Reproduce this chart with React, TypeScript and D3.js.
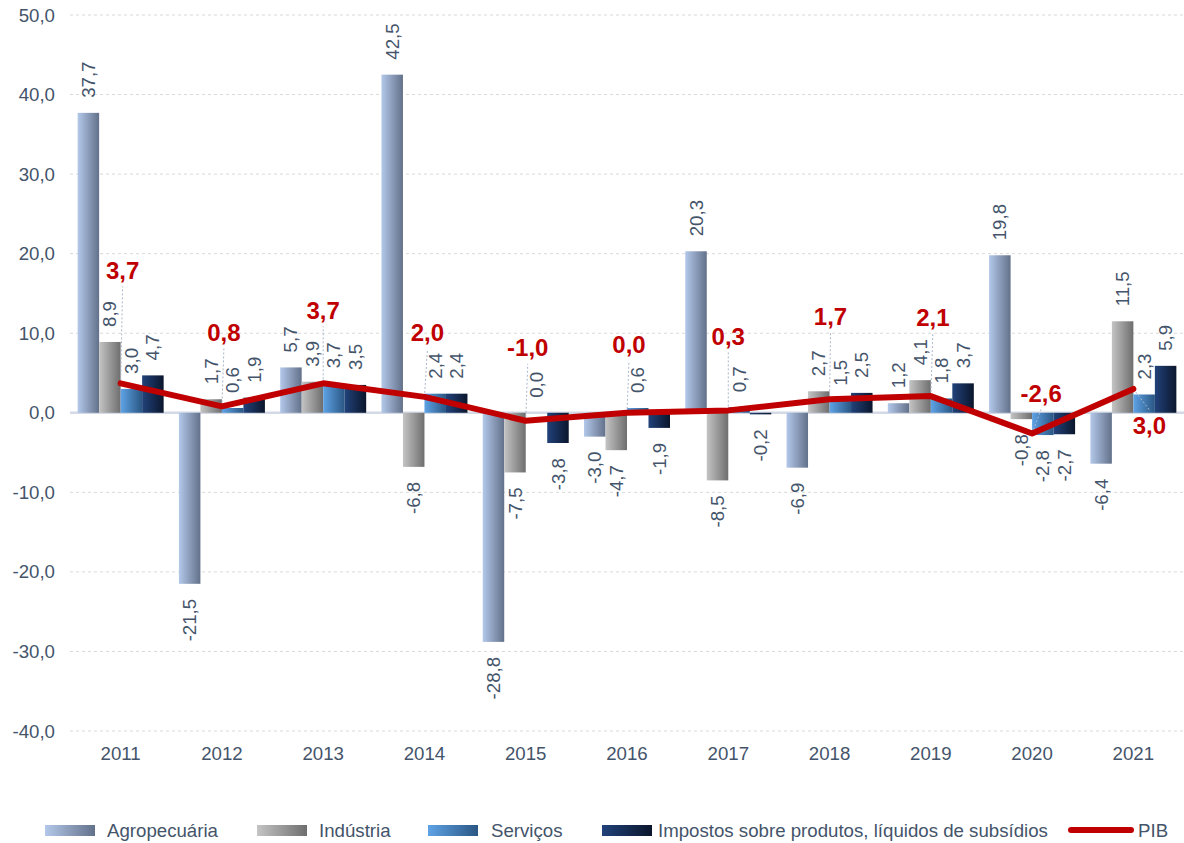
import React from "react";
import * as d3 from "d3";

// ---------- data ----------
const years = ["2011", "2012", "2013", "2014", "2015", "2016", "2017", "2018", "2019", "2020", "2021"];
const agropecuaria = [37.7, -21.5, 5.7, 42.5, -28.8, -3.0, 20.3, -6.9, 1.2, 19.8, -6.4];
const industria = [8.9, 1.7, 3.9, -6.8, -7.5, -4.7, -8.5, 2.7, 4.1, -0.8, 11.5];
const servicos = [3.0, 0.6, 3.7, 2.4, 0.0, 0.6, 0.7, 1.5, 1.8, -2.8, 2.3];
const impostos = [4.7, 1.9, 3.5, 2.4, -3.8, -1.9, -0.2, 2.5, 3.7, -2.7, 5.9];
const pib = [3.7, 0.8, 3.7, 2.0, -1.0, 0.0, 0.3, 1.7, 2.1, -2.6, 3.0];
const yTicks = [-40, -30, -20, -10, 0, 10, 20, 30, 40, 50];
const seriesNames = ["Agropecuária", "Indústria", "Serviços", "Impostos sobre produtos, líquidos de subsídios"];
const pibName = "PIB";

// ---------- layout / style ----------
const W = 1184;
const H = 843;
const FONT = "'Liberation Sans', Arial, Helvetica, sans-serif";
const TEXT = "#44546a";
const RED = "#c00000";
const FS = 18.67;
const gradients = [
  ["#b3c8ea", "#63718a"],
  ["#c4c4c4", "#6e6e6e"],
  ["#5ea3e6", "#2a5683"],
  ["#21427a", "#0b162c"],
];
// PIB data-label offsets (px) from the line point
const pibLabelDx = [2, 2, 0, 3, 2, 2, 0, 1, 2, 9, 16];
const pibLabelDy = [-113, -74, -73, -64, -73, -68, -74, -83, -78, -40, 37];
// legend layout
const legendItems = [
  { swatchX: 45, textX: 107 },
  { swatchX: 257, textX: 319 },
  { swatchX: 428, textX: 491 },
  { swatchX: 602, textX: 658 },
];
const legendPib = { x1: 1071, x2: 1131, textX: 1138 };
const legendY = 830;

const locale = d3.formatLocale({
  decimal: ",",
  thousands: ".",
  grouping: [3],
  currency: ["", ""],
  minus: "-",
});
const fmt = locale.format(".1f");

export default function App() {
  const series = [agropecuaria, industria, servicos, impostos];
  const keys = ["s0", "s1", "s2", "s3"];

  const x0 = d3.scaleBand<string>().domain(years).range([70, 1184]);
  const x1 = d3
    .scaleBand<string>()
    .domain(keys)
    .range([0, x0.bandwidth()])
    .paddingOuter(0.355);
  const y = d3.scaleLinear().domain([-40, 50]).range([731, 15]);
  const cx = (i: number) => (x0(years[i]) as number) + x0.bandwidth() / 2;

  const line = d3
    .line<number>()
    .x((_, i) => cx(i))
    .y((d) => y(d));

  const gap = 15;

  return (
    <svg
      width={W}
      height={H}
      style={{ position: "absolute", left: 0, top: 0, background: "#fff" }}
      fontFamily={FONT}
    >
      <defs>
        {gradients.map((g, i) => (
          <linearGradient key={i} id={`grad${i}`} x1="0" x2="1" y1="0" y2="0">
            <stop offset="0%" stopColor={g[0]} />
            <stop offset="100%" stopColor={g[1]} />
          </linearGradient>
        ))}
      </defs>

      {/* grid lines */}
      {yTicks
        .filter((t) => t !== 0)
        .map((t) => (
          <line
            key={t}
            x1={70}
            x2={1184}
            y1={y(t)}
            y2={y(t)}
            stroke="#d9d9d9"
            strokeWidth={1}
            strokeDasharray="3,3"
          />
        ))}
      {/* y tick labels */}
      {yTicks.map((t) => (
        <text
          key={t}
          x={55}
          y={y(t)}
          dy="0.35em"
          textAnchor="end"
          fontSize={FS}
          fill={TEXT}
        >
          {fmt(t)}
        </text>
      ))}

      {/* zero line */}
      <line x1={70} x2={1184} y1={y(0)} y2={y(0)} stroke="#d3dae5" strokeWidth={2.5} />

      {/* bars */}
      {series.map((vals, s) =>
        vals.map((v, i) => {
          const bx = (x0(years[i]) as number) + (x1(keys[s]) as number);
          return (
            <rect
              key={`${s}-${i}`}
              x={bx}
              y={Math.min(y(v), y(0))}
              width={x1.bandwidth()}
              height={Math.abs(y(v) - y(0))}
              fill={`url(#grad${s})`}
            />
          );
        })
      )}

      {/* category labels */}
      {years.map((yr, i) => (
        <text key={yr} x={cx(i)} y={760} textAnchor="middle" fontSize={FS} fill={TEXT}>
          {yr}
        </text>
      ))}

      {/* bar value labels */}
      {series.map((vals, s) =>
        vals.map((v, i) => {
          const bx = (x0(years[i]) as number) + (x1(keys[s]) as number) + x1.bandwidth() / 2;
          const pos = v >= 0;
          const ay = pos ? y(v) - gap : y(v) + gap;
          return (
            <text
              key={`l${s}-${i}`}
              transform={`translate(${bx},${ay}) rotate(-90)`}
              dy="0.35em"
              textAnchor={pos ? "start" : "end"}
              fontSize={FS}
              fill={TEXT}
            >
              {fmt(v)}
            </text>
          );
        })
      )}

      {/* PIB leaders */}
      {pib.map((v, i) => {
        const px = cx(i);
        const py = y(v);
        const lx = px + pibLabelDx[i];
        const ly = py + pibLabelDy[i];
        const ey = pibLabelDy[i] < 0 ? ly + 16 : ly - 16;
        return (
          <line
            key={`ld${i}`}
            x1={px}
            y1={py}
            x2={lx}
            y2={ey}
            stroke="#aab6ca"
            strokeWidth={1}
            strokeDasharray="2,2"
          />
        );
      })}

      {/* PIB line */}
      <path
        d={line(pib) as string}
        fill="none"
        stroke={RED}
        strokeWidth={6}
        strokeLinejoin="round"
        strokeLinecap="round"
      />

      {/* PIB labels */}
      {pib.map((v, i) => (
        <text
          key={`pl${i}`}
          x={cx(i) + pibLabelDx[i]}
          y={y(v) + pibLabelDy[i]}
          dy="0.35em"
          textAnchor="middle"
          fontSize={24}
          fontWeight="bold"
          fill={RED}
        >
          {fmt(v)}
        </text>
      ))}

      {/* legend */}
      {legendItems.map((it, i) => (
        <g key={`lg${i}`}>
          <rect x={it.swatchX} y={legendY - 5} width={50} height={11} fill={`url(#grad${i})`} />
          <text x={it.textX} y={legendY} dy="0.35em" fontSize={FS} fill={TEXT}>
            {seriesNames[i]}
          </text>
        </g>
      ))}
      <line
        x1={legendPib.x1}
        x2={legendPib.x2}
        y1={legendY}
        y2={legendY}
        stroke={RED}
        strokeWidth={6}
        strokeLinecap="round"
      />
      <text x={legendPib.textX} y={legendY} dy="0.35em" fontSize={FS} fill={TEXT}>
        {pibName}
      </text>
    </svg>
  );
}
